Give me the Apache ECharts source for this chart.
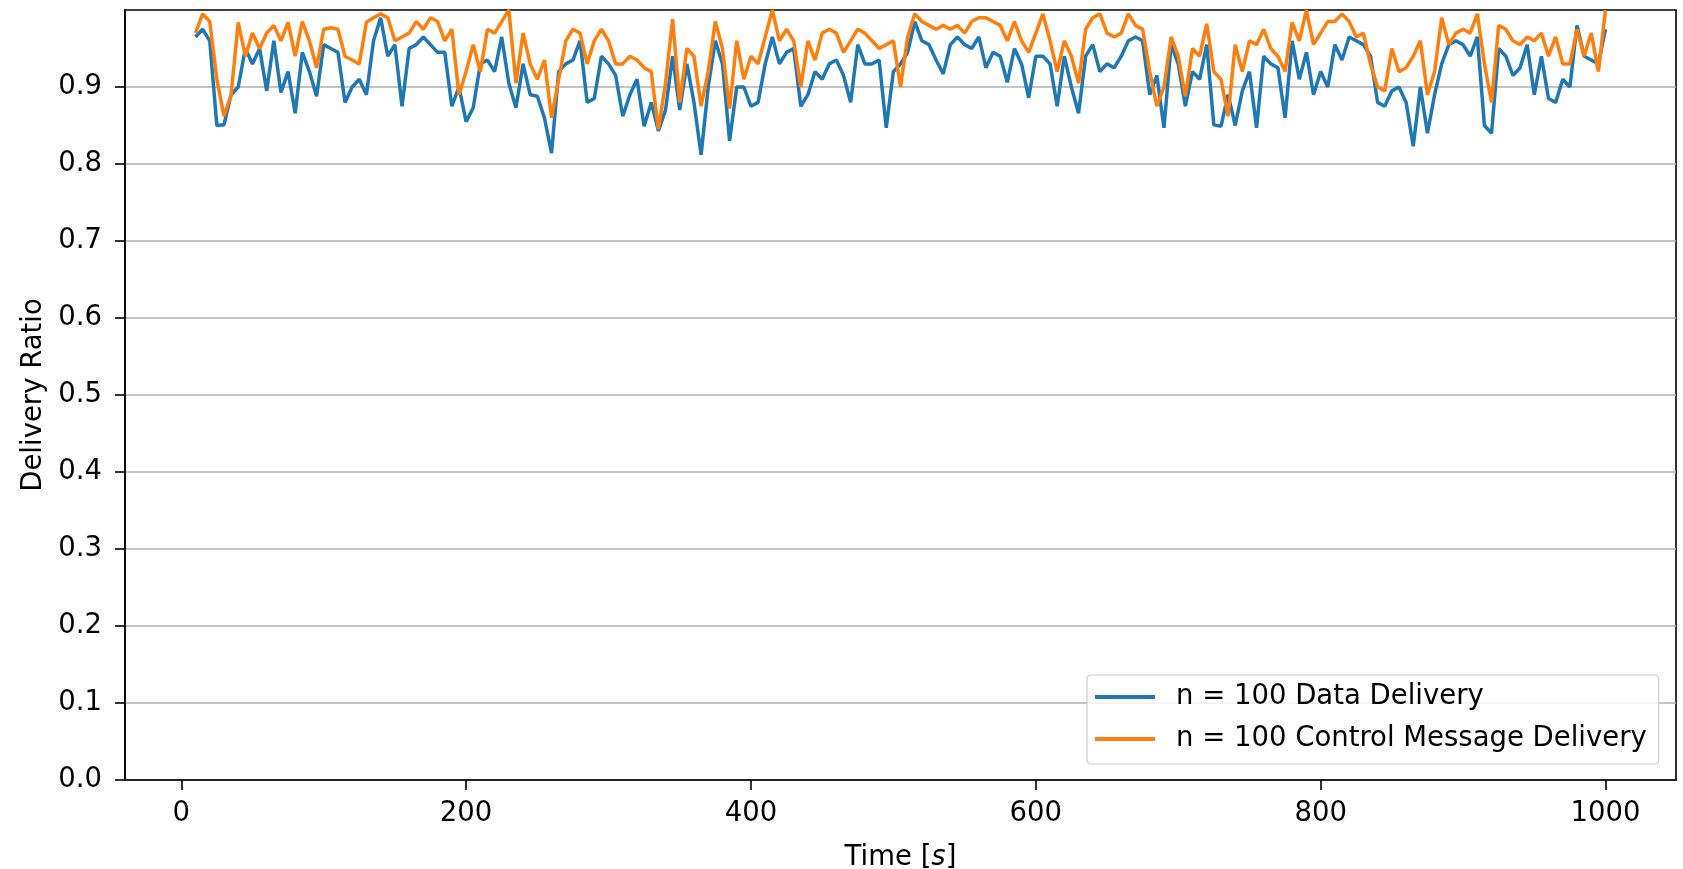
<!DOCTYPE html>
<html>
<head>
<meta charset="utf-8">
<script src="https://cdn.jsdelivr.net/npm/echarts@6/dist/echarts.min.js"></script>
<style>
  html, body { margin: 0; padding: 0; background: #fff; }
  #chart { width: 1683px; height: 869px; }
</style>
</head>
<body>
<div id="chart"></div>
<script>
const times = [
  10, 15, 20, 25, 30, 35, 40, 45, 50, 55, 60, 65, 70, 75, 80, 85, 90, 95, 100, 105,
  110, 115, 120, 125, 130, 135, 140, 145, 150, 155, 160, 165, 170, 175, 180, 185, 190, 195, 200, 205,
  210, 215, 220, 225, 230, 235, 240, 245, 250, 255, 260, 265, 270, 275, 280, 285, 290, 295, 300, 305,
  310, 315, 320, 325, 330, 335, 340, 345, 350, 355, 360, 365, 370, 375, 380, 385, 390, 395, 400, 405,
  410, 415, 420, 425, 430, 435, 440, 445, 450, 455, 460, 465, 470, 475, 480, 485, 490, 495, 500, 505,
  510, 515, 520, 525, 530, 535, 540, 545, 550, 555, 560, 565, 570, 575, 580, 585, 590, 595, 600, 605,
  610, 615, 620, 625, 630, 635, 640, 645, 650, 655, 660, 665, 670, 675, 680, 685, 690, 695, 700, 705,
  710, 715, 720, 725, 730, 735, 740, 745, 750, 755, 760, 765, 770, 775, 780, 785, 790, 795, 800, 805,
  810, 815, 820, 825, 830, 835, 840, 845, 850, 855, 860, 865, 870, 875, 880, 885, 890, 895, 900, 905,
  910, 915, 920, 925, 930, 935, 940, 945, 950, 955, 960, 965, 970, 975, 980, 985, 990, 995, 1000
];

// n = 100 Data Delivery
const dataDelivery = [
  0.965, 0.975, 0.96, 0.85, 0.851, 0.89, 0.90, 0.95, 0.93, 0.95, 0.895, 0.96, 0.893, 0.92, 0.866, 0.945, 0.92, 0.888, 0.955, 0.95,
  0.945, 0.88, 0.9, 0.91, 0.89, 0.96, 0.99, 0.94, 0.955, 0.875, 0.95, 0.955, 0.965, 0.955, 0.945, 0.945, 0.875, 0.9, 0.855, 0.873,
  0.93, 0.935, 0.92, 0.965, 0.905, 0.873, 0.93, 0.89, 0.888, 0.86, 0.814, 0.92, 0.93, 0.935, 0.96, 0.88, 0.885, 0.94, 0.93, 0.915,
  0.862, 0.89, 0.91, 0.849, 0.88, 0.843, 0.87, 0.94, 0.87, 0.93, 0.88, 0.812, 0.9, 0.96, 0.93, 0.83, 0.9, 0.9, 0.875, 0.88,
  0.93, 0.965, 0.93, 0.945, 0.95, 0.875, 0.89, 0.92, 0.91, 0.93, 0.935, 0.915, 0.88, 0.955, 0.93, 0.93, 0.935, 0.847, 0.92, 0.93,
  0.945, 0.985, 0.96, 0.955, 0.935, 0.917, 0.955, 0.965, 0.955, 0.95, 0.965, 0.925, 0.945, 0.94, 0.906, 0.95, 0.93, 0.886, 0.94, 0.94,
  0.93, 0.875, 0.94, 0.9, 0.866, 0.94, 0.955, 0.92, 0.93, 0.925, 0.94, 0.96, 0.965, 0.96, 0.89, 0.915, 0.847, 0.955, 0.93, 0.875,
  0.92, 0.91, 0.955, 0.851, 0.849, 0.89, 0.85, 0.895, 0.92, 0.847, 0.94, 0.93, 0.925, 0.86, 0.96, 0.91, 0.945, 0.89, 0.92, 0.9,
  0.955, 0.935, 0.965, 0.96, 0.955, 0.94, 0.88, 0.875, 0.895, 0.9, 0.88, 0.823, 0.9, 0.84, 0.89, 0.93, 0.955, 0.96, 0.955, 0.94,
  0.965, 0.85, 0.84, 0.95, 0.94, 0.915, 0.925, 0.955, 0.89, 0.94, 0.885, 0.88, 0.91, 0.9, 0.98, 0.94, 0.935, 0.93, 0.975
];

// n = 100 Control Message Delivery
const controlDelivery = [
  0.97, 0.995, 0.985, 0.91, 0.862, 0.89, 0.984, 0.94, 0.97, 0.95, 0.97, 0.98, 0.96, 0.984, 0.94, 0.985, 0.96, 0.925, 0.975, 0.977,
  0.975, 0.94, 0.935, 0.93, 0.984, 0.99, 0.995, 0.99, 0.96, 0.965, 0.97, 0.985, 0.975, 0.99, 0.985, 0.96, 0.975, 0.89, 0.92, 0.955,
  0.92, 0.975, 0.97, 0.985, 1.0, 0.905, 0.97, 0.93, 0.91, 0.935, 0.86, 0.91, 0.96, 0.975, 0.97, 0.93, 0.96, 0.975, 0.96, 0.93,
  0.93, 0.94, 0.935, 0.925, 0.92, 0.845, 0.905, 0.988, 0.88, 0.95, 0.94, 0.875, 0.92, 0.985, 0.95, 0.872, 0.96, 0.91, 0.94, 0.93,
  0.965, 1.0, 0.96, 0.975, 0.96, 0.9, 0.96, 0.935, 0.97, 0.975, 0.97, 0.945, 0.96, 0.975, 0.97, 0.96, 0.95, 0.955, 0.96, 0.9,
  0.965, 0.995, 0.985, 0.98, 0.975, 0.98, 0.975, 0.98, 0.97, 0.985, 0.99, 0.99, 0.985, 0.98, 0.96, 0.985, 0.96, 0.945, 0.97, 0.995,
  0.96, 0.92, 0.96, 0.94, 0.905, 0.975, 0.99, 0.995, 0.97, 0.965, 0.97, 0.995, 0.98, 0.975, 0.92, 0.875, 0.9, 0.965, 0.94, 0.888,
  0.95, 0.94, 0.982, 0.92, 0.91, 0.862, 0.955, 0.92, 0.96, 0.955, 0.975, 0.95, 0.94, 0.92, 0.984, 0.96, 1.0, 0.955, 0.97, 0.985,
  0.985, 0.995, 0.985, 0.965, 0.97, 0.93, 0.9, 0.895, 0.95, 0.92, 0.925, 0.94, 0.96, 0.89, 0.92, 0.99, 0.955, 0.97, 0.975, 0.97,
  0.995, 0.93, 0.88, 0.98, 0.975, 0.96, 0.955, 0.965, 0.96, 0.97, 0.94, 0.965, 0.93, 0.93, 0.975, 0.94, 0.97, 0.92, 1.0
];

const xTicks = [0, 200, 400, 600, 800, 1000];
const yTicks = [0, 0.1, 0.2, 0.3, 0.4, 0.5, 0.6, 0.7, 0.8, 0.9];
const seriesNames = ['n = 100 Data Delivery', 'n = 100 Control Message Delivery'];

const FONT = 'DejaVu Sans';
const FS = 27.5;
const chart = echarts.init(document.getElementById('chart'), null, { renderer: 'canvas' });

const pairs = (ys) => times.map((t, i) => [t, ys[i]]);

const option = {
  backgroundColor: '#fff',
  animation: false,
  textStyle: { fontFamily: FONT, color: '#000' },
  grid: {
    left: 125, right: 7, top: 10, bottom: 89,
    show: true,
    borderColor: '#000',
    borderWidth: 1.6,
    backgroundColor: 'transparent',
    containLabel: false,
    outerBoundsMode: 'none'
  },
  legend: {
    left: 1087,
    top: 675,
    orient: 'vertical',
    icon: 'rect',
    itemWidth: 60,
    itemHeight: 4,
    itemGap: 14,
    padding: [8, 12, 11, 8],
    backgroundColor: 'rgba(255,255,255,0.8)',
    borderColor: '#cccccc',
    borderWidth: 1.2,
    borderRadius: 4,
    textStyle: { fontFamily: FONT, fontSize: FS, color: '#000', padding: [0, 0, 0, 16] },
    data: seriesNames
  },
  xAxis: {
    type: 'value',
    min: -39.5,
    max: 1049.5,
    name: '{n|Time [}{i|s}{n|]}',
    nameLocation: 'middle',
    nameGap: 64,
    nameTextStyle: {
      rich: {
        n: { fontFamily: FONT, fontSize: FS, color: '#000' },
        i: { fontFamily: FONT, fontSize: FS, fontStyle: 'italic', color: '#000' }
      }
    },
    axisLine: { show: true, onZero: false, lineStyle: { color: '#000', width: 1.6 } },
    axisTick: { show: true, inside: false, length: 10, customValues: xTicks, lineStyle: { color: '#000', width: 1.6 } },
    axisLabel: {
      customValues: xTicks,
      margin: 20,
      fontFamily: FONT,
      fontSize: FS,
      color: '#000',
      formatter: (v) => String(v)
    },
    splitLine: { show: false }
  },
  yAxis: {
    type: 'value',
    min: 0,
    max: 1,
    interval: 0.1,
    name: 'Delivery Ratio',
    nameLocation: 'middle',
    nameGap: 71,
    nameTextStyle: { fontFamily: FONT, fontSize: FS, color: '#000' },
    axisLine: { show: true, onZero: false, lineStyle: { color: '#000', width: 1.6 } },
    axisTick: { show: true, inside: false, length: 10, customValues: yTicks, lineStyle: { color: '#000', width: 1.6 } },
    axisLabel: {
      customValues: yTicks,
      margin: 23,
      fontFamily: FONT,
      fontSize: FS,
      color: '#000',
      formatter: (v) => v.toFixed(1)
    },
    splitLine: { show: true, lineStyle: { color: '#b0b0b0', width: 1.5 } }
  },
  series: [
    {
      name: seriesNames[0],
      type: 'line',
      data: pairs(dataDelivery),
      symbol: 'none',
      clip: true,
      lineStyle: { color: '#1f77b4', width: 3.5 },
      itemStyle: { color: '#1f77b4' }
    },
    {
      name: seriesNames[1],
      type: 'line',
      data: pairs(controlDelivery),
      symbol: 'none',
      clip: true,
      lineStyle: { color: '#ff7f0e', width: 3.5 },
      itemStyle: { color: '#ff7f0e' }
    }
  ]
};

chart.setOption(option);
window.addEventListener('resize', () => chart.resize());
</script>
</body>
</html>
